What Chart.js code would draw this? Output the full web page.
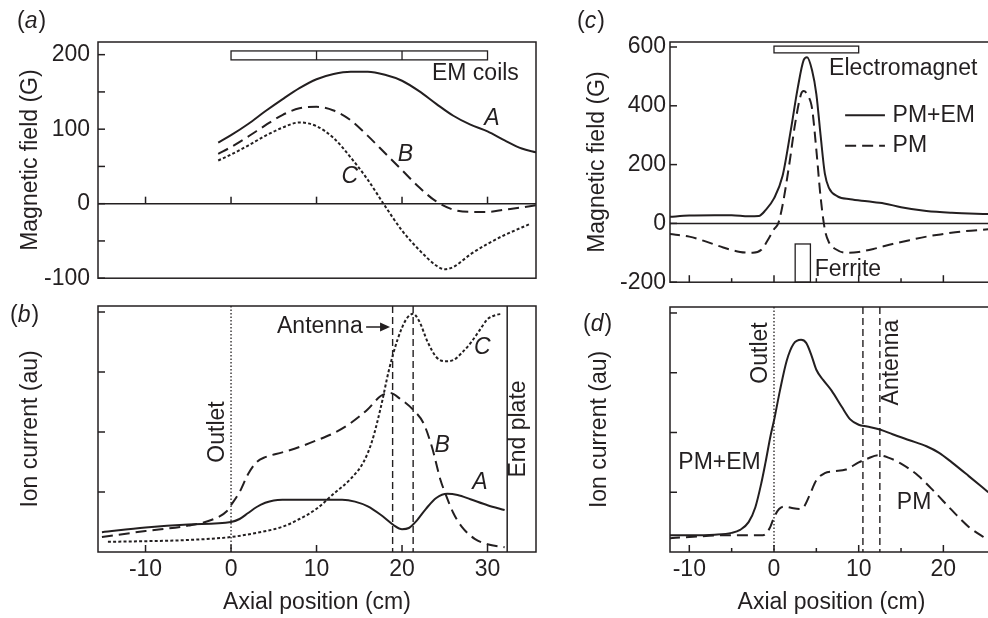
<!DOCTYPE html>
<html>
<head>
<meta charset="utf-8">
<title>Axial field and ion current profiles</title>
<script src="https://cdn.jsdelivr.net/npm/chart.js@4.4.1/dist/chart.umd.min.js"></script>
<style>
  html, body { margin: 0; padding: 0; background: #fff; overflow: hidden; }
  body { width: 988px; height: 618px; position: relative; }
  canvas { position: absolute; }
</style>
</head>
<body>
<canvas id="chartA" width="545" height="300" style="left:0;top:0"></canvas>
<canvas id="chartB" width="545" height="322" style="left:0;top:296px"></canvas>
<canvas id="chartC" width="440" height="300" style="left:560px;top:0"></canvas>
<canvas id="chartD" width="440" height="322" style="left:560px;top:296px"></canvas>
<script>
// (a) axial magnetic field for three coil settings, G
const fieldPosA = [-1.5, 0, 2, 4, 6, 8, 10, 12, 14, 16, 18, 20, 22, 24, 26, 28, 30, 32, 34, 35.7];
const fieldA = [82, 92, 107, 124, 140, 155, 167, 174, 177, 177, 173, 165, 151, 134, 118, 106, 97, 85, 74, 69];
const fieldPosB = [-1.5, 0, 2, 4, 6, 8, 10, 12, 14, 16, 18, 20, 22, 24, 26, 28, 30, 32, 34, 35.7];
const fieldB = [67, 76, 90, 105, 119, 128, 130, 125, 112, 91, 68, 45, 22, 3, -8, -11, -11, -8, -5, -2];
const fieldPosC = [-1.5, 0, 2, 4, 6, 8, 10, 12, 14, 16, 18, 20, 22, 24, 25, 26, 27, 28, 30, 32, 34, 35];
const fieldC = [58, 66, 78, 91, 102, 109, 104, 88, 62, 32, -3, -36, -62, -83, -88, -85, -77, -68, -54, -42, -32, -27];

// (b) ion current for the same settings, au
const ionPosA = [-15.1, -10, -5, 0, 1, 2, 3, 4, 5, 6, 9, 13, 14.5, 16, 17.5, 19, 20, 20.8, 21.7, 22.8, 24, 25.3, 26.5, 28, 30, 32];
const ionA = [0.33, 0.41, 0.46, 0.5, 0.55, 0.65, 0.75, 0.82, 0.86, 0.87, 0.87, 0.87, 0.84, 0.76, 0.62, 0.45, 0.38, 0.4, 0.52, 0.72, 0.9, 0.97, 0.95, 0.88, 0.78, 0.7];
const ionPosB = [-15.1, -10, -5, -2, -0.5, 0, 1, 2, 3, 4, 6, 8, 10, 12, 14, 16, 17.5, 18.6, 19.8, 21.3, 22.5, 23.5, 24.5, 25, 26, 27, 28.5, 30, 32];
const ionB = [0.25, 0.35, 0.44, 0.55, 0.68, 0.78, 1.0, 1.3, 1.5, 1.58, 1.66, 1.75, 1.86, 1.98, 2.15, 2.38, 2.6, 2.65, 2.55, 2.37, 2.15, 1.75, 1.2, 1.0, 0.65, 0.42, 0.22, 0.13, 0.08];
const ionPosC = [-14.4, -10, -5, 0, 3, 6, 8, 10, 12, 14, 15.5, 16.5, 17.5, 18.5, 19.5, 20.5, 21.3, 22, 23, 24, 25, 26, 27, 28, 29, 30, 31, 31.7];
const ionC = [0.17, 0.18, 0.2, 0.25, 0.32, 0.42, 0.55, 0.72, 0.97, 1.22, 1.5, 1.85, 2.4, 3.05, 3.55, 3.88, 3.97, 3.85, 3.5, 3.25, 3.18, 3.2, 3.32, 3.48, 3.68, 3.88, 3.95, 3.97];

// (c) field with permanent magnet, with and without electromagnet, G
const pmemFieldPos = [-12.4, -10, -7, -5, -3, -1.8, -1, 0, 1, 2, 2.8, 3.5, 3.9, 4.5, 5, 5.5, 6, 6.5, 7.5, 9, 11, 13, 15, 18, 21, 25.3];
const pmemField = [22, 27, 28, 28, 24, 25, 45, 85, 160, 320, 460, 555, 565, 520, 440, 300, 170, 120, 92, 82, 75, 68, 55, 42, 36, 32];
const pmFieldPos = [-12.4, -10, -8, -6, -4, -2.5, -1.5, -0.8, 0, 0.5, 1, 1.8, 2.5, 3.2, 3.5, 4, 4.5, 5, 5.5, 6, 6.5, 7.3, 8.5, 10, 12, 14, 16, 18, 20, 22, 25.3];
const pmField = [-36, -45, -62, -82, -97, -100, -90, -60, -20, 0, 60, 200, 340, 440, 450, 435, 390, 250, 90, -20, -65, -88, -100, -97, -85, -70, -57, -45, -36, -28, -20];

// (d) ion current, au
const pmemIonPos = [-12.4, -10, -7, -5, -4, -3, -2.2, -1.5, -1, -0.4, 0, 0.7, 1.5, 2.3, 3.2, 3.8, 4.4, 5, 5.8, 6.8, 8, 9, 10, 11, 12.5, 14, 16, 18, 19.5, 21, 23, 25.3];
const pmemIon = [0.28, 0.28, 0.29, 0.32, 0.37, 0.5, 0.75, 1.15, 1.5, 1.95, 2.2, 2.7, 3.2, 3.48, 3.55, 3.5, 3.3, 3.05, 2.88, 2.7, 2.43, 2.22, 2.13, 2.1, 2.05, 1.97, 1.87, 1.77, 1.66, 1.5, 1.27, 1.0];
const pmIonPos = [-12.4, -10, -6, -3, -1.3, -0.5, 0, 0.6, 1.2, 2, 3, 3.5, 4.2, 5, 6, 7, 8.5, 10, 11, 12.3, 13.5, 15, 17, 19, 21, 23, 25.3];
const pmIon = [0.23, 0.25, 0.28, 0.28, 0.28, 0.4, 0.58, 0.72, 0.76, 0.74, 0.72, 0.75, 0.95, 1.2, 1.32, 1.35, 1.38, 1.5, 1.56, 1.62, 1.58, 1.48, 1.28, 1.0, 0.7, 0.42, 0.2];

// tick values
const xTicksLeft = [-10, 0, 10, 20, 30];
const xTicksRight = [-10, 0, 10, 20];
const xMinorRight = [-5, 5, 15];
const yTicksFieldA = [-100, 0, 100, 200];
const yMinorFieldA = [-50, 50, 150];
const yTicksFieldC = [-200, 0, 200, 400, 600];
const yTicksIon = [1, 2, 3, 4];

// hardware positions, cm
const coilEdges = [0, 10, 20, 30];
const coilBand = [193, 205];
const emEdges = [0, 10];
const emBand = [580, 603];
const ferriteEdges = [2.5, 4.3];
const ferriteBand = [-200, -70];
const outletPos = 0;
const antennaPosB = [18.9, 21.3];
const endPlatePos = 32.3;
const antennaPosD = [10.5, 12.5];

const INK = '#231f20';
const FONT = '"Liberation Sans", Arial, Helvetica, sans-serif';
const FS = 23;

Chart.defaults.font.family = FONT;
Chart.defaults.font.size = FS;
Chart.defaults.color = INK;

const SOLID = [];
const DASHED = [11, 6];
const DOTTED = [3, 2.2];

function curve(label, xs, ys, dash) {
    return {
        label: label,
        data: xs.map((x, i) => ({ x: x, y: ys[i] })),
        borderColor: INK,
        borderWidth: 2,
        borderDash: dash,
        pointRadius: 0,
        fill: false,
        cubicInterpolationMode: 'monotone'
    };
}

// small canvas helpers
function seg(ctx, x1, y1, x2, y2) {
    ctx.beginPath();
    ctx.moveTo(x1, y1);
    ctx.lineTo(x2, y2);
    ctx.stroke();
}

function text(ctx, str, x, y, opts = {}) {
    ctx.save();
    ctx.fillStyle = INK;
    ctx.font = (opts.italic ? 'italic ' : '') + FS + 'px ' + FONT;
    ctx.textAlign = opts.align || 'center';
    ctx.textBaseline = 'middle';
    ctx.translate(x, y);
    if (opts.rotate) ctx.rotate(-Math.PI / 2);
    ctx.fillText(str, 0, 0);
    ctx.restore();
}

// "(a)" style panel tag with italic letter
function panelTag(ctx, letter, x, y) {
    ctx.save();
    ctx.fillStyle = INK;
    ctx.textBaseline = 'middle';
    ctx.textAlign = 'left';
    ctx.font = FS + 'px ' + FONT;
    ctx.fillText('(', x, y);
    let cx = x + ctx.measureText('(').width;
    ctx.font = 'italic ' + FS + 'px ' + FONT;
    ctx.fillText(letter, cx, y);
    cx += ctx.measureText(letter).width + 1;
    ctx.font = FS + 'px ' + FONT;
    ctx.fillText(')', cx, y);
    ctx.restore();
}

function vline(ctx, x, y, pos, dash, width) {
    const a = x.chart.chartArea;
    const px = x.getPixelForValue(pos);
    ctx.save();
    ctx.strokeStyle = INK;
    ctx.lineWidth = width;
    ctx.setLineDash(dash);
    seg(ctx, px, a.top, px, a.bottom);
    ctx.restore();
}

// frame box, inward ticks and panel-specific annotations
function framePlugin(cfg) {
    return {
        id: 'frame',
        afterDatasetsDraw(chart) {
            const { ctx, chartArea: a, scales: { x, y } } = chart;
            ctx.save();
            ctx.strokeStyle = INK;
            ctx.lineWidth = 1.5;
            ctx.setLineDash([]);
            ctx.strokeRect(a.left, a.top, a.right - a.left, a.bottom - a.top);

            if (cfg.zeroLine) {
                const y0 = y.getPixelForValue(0);
                seg(ctx, a.left, y0, a.right, y0);
            }
            const base = cfg.xTickAtZero ? y.getPixelForValue(0) : a.bottom;
            (cfg.xTicks || []).forEach(v => {
                const px = x.getPixelForValue(v);
                seg(ctx, px, base, px, base - 7);
            });
            (cfg.xMinor || []).forEach(v => {
                const px = x.getPixelForValue(v);
                seg(ctx, px, base, px, base - 4);
            });
            (cfg.yTicks || []).forEach(v => {
                const py = y.getPixelForValue(v);
                seg(ctx, a.left, py, a.left + 7, py);
            });
            (cfg.yMinor || []).forEach(v => {
                const py = y.getPixelForValue(v);
                seg(ctx, a.left, py, a.left + 7, py);
            });
            ctx.restore();
            if (cfg.draw) cfg.draw(ctx, x, y, a);
        }
    };
}

function makeChart(canvasId, cfg) {
    const ctx = document.getElementById(canvasId).getContext('2d');
    return new Chart(ctx, {
        type: 'line',
        data: { datasets: cfg.datasets },
        options: {
            responsive: false,
            animation: false,
            events: [],
            layout: { padding: { top: cfg.padTop, right: cfg.padRight, left: 0, bottom: 0 } },
            plugins: {
                legend: { display: false },
                tooltip: { enabled: false }
            },
            scales: {
                x: {
                    type: 'linear',
                    min: cfg.xMin,
                    max: cfg.xMax,
                    grid: { display: false, drawTicks: false },
                    border: { display: false },
                    ticks: { display: !!cfg.xLabels, padding: 4, autoSkip: false, maxRotation: 0 },
                    afterBuildTicks: s => { s.ticks = (cfg.xLabels || []).map(v => ({ value: v })); },
                    afterFit: s => { s.height = cfg.xHeight; },
                    title: {
                        display: !!cfg.xTitle,
                        text: cfg.xTitle || '',
                        padding: { top: 0, bottom: 2 }
                    }
                },
                y: {
                    type: 'linear',
                    min: cfg.yMin,
                    max: cfg.yMax,
                    grid: { display: false, drawTicks: false },
                    border: { display: false },
                    ticks: { display: !!cfg.yLabels, padding: cfg.yLabelPad || 6, autoSkip: false },
                    afterBuildTicks: s => { s.ticks = (cfg.yLabels || []).map(v => ({ value: v })); },
                    afterFit: s => { s.width = cfg.yWidth; },
                    title: {
                        display: true,
                        text: cfg.yTitle,
                        padding: { top: cfg.yTitlePad, bottom: 0 }
                    }
                }
            }
        },
        plugins: [framePlugin(cfg)]
    });
}

// (a) magnetic field, EM coils only
makeChart('chartA', {
    xMin: -15.56, xMax: 35.67, yMin: -100, yMax: 217,
    yWidth: 98, xHeight: 14, padTop: 42, padRight: 9,
    yTitle: 'Magnetic field (G)', yTitlePad: 17,
    yLabels: yTicksFieldA, yLabelPad: 8,
    zeroLine: true, xTickAtZero: true,
    xTicks: xTicksLeft, yTicks: yTicksFieldA, yMinor: yMinorFieldA,
    datasets: [
        curve('A', fieldPosA, fieldA, SOLID),
        curve('B', fieldPosB, fieldB, DASHED),
        curve('C', fieldPosC, fieldC, DOTTED)
    ],
    draw(ctx, x, y) {
        // coil stack
        ctx.save();
        ctx.strokeStyle = INK;
        ctx.lineWidth = 1.3;
        const top = y.getPixelForValue(coilBand[1]);
        const bot = y.getPixelForValue(coilBand[0]);
        const l = x.getPixelForValue(coilEdges[0]);
        const r = x.getPixelForValue(coilEdges[coilEdges.length - 1]);
        ctx.strokeRect(l, top, r - l, bot - top);
        coilEdges.slice(1, -1).forEach(v => {
            const px = x.getPixelForValue(v);
            seg(ctx, px, top, px, bot);
        });
        ctx.restore();
        text(ctx, 'EM coils', x.getPixelForValue(23.5), y.getPixelForValue(175), { align: 'left' });
        text(ctx, 'A', x.getPixelForValue(30.5), y.getPixelForValue(114), { italic: true });
        text(ctx, 'B', x.getPixelForValue(20.4), y.getPixelForValue(66), { italic: true });
        text(ctx, 'C', x.getPixelForValue(13.9), y.getPixelForValue(36), { italic: true });
        panelTag(ctx, 'a', 17, 22);
    }
});

// (b) ion current, EM coils only
makeChart('chartB', {
    xMin: -15.56, xMax: 35.67, yMin: 0, yMax: 4.1,
    yWidth: 98, xHeight: 66, padTop: 10, padRight: 9,
    yTitle: 'Ion current (au)', yTitlePad: 17,
    xLabels: xTicksLeft, xTitle: 'Axial position (cm)',
    xTicks: xTicksLeft, yTicks: yTicksIon,
    datasets: [
        curve('A', ionPosA, ionA, SOLID),
        curve('B', ionPosB, ionB, DASHED),
        curve('C', ionPosC, ionC, DOTTED)
    ],
    draw(ctx, x, y) {
        vline(ctx, x, y, outletPos, [1.5, 2], 1.3);
        antennaPosB.forEach(p => vline(ctx, x, y, p, [7, 4], 1.4));
        vline(ctx, x, y, endPlatePos, [], 1.5);

        text(ctx, 'Outlet', x.getPixelForValue(-1.6), y.getPixelForValue(2.0), { rotate: true });
        text(ctx, 'End plate', x.getPixelForValue(33.6), y.getPixelForValue(2.05), { rotate: true });

        const ay = y.getPixelForValue(3.75);
        text(ctx, 'Antenna', x.getPixelForValue(15.4), ay, { align: 'right' });
        const x1 = x.getPixelForValue(15.8), x2 = x.getPixelForValue(18.6);
        ctx.save();
        ctx.strokeStyle = INK;
        ctx.fillStyle = INK;
        ctx.lineWidth = 1.5;
        seg(ctx, x1, ay, x2 - 8, ay);
        ctx.beginPath();
        ctx.moveTo(x2, ay);
        ctx.lineTo(x2 - 10, ay - 4.5);
        ctx.lineTo(x2 - 10, ay + 4.5);
        ctx.closePath();
        ctx.fill();
        ctx.restore();

        text(ctx, 'A', x.getPixelForValue(29.1), y.getPixelForValue(1.15), { italic: true });
        text(ctx, 'B', x.getPixelForValue(24.7), y.getPixelForValue(1.78), { italic: true });
        text(ctx, 'C', x.getPixelForValue(29.4), y.getPixelForValue(3.4), { italic: true });
        panelTag(ctx, 'b', 10, 20);
    }
});

// (c) magnetic field, permanent magnet with and without electromagnet
makeChart('chartC', {
    xMin: -12.28, xMax: 25.86, yMin: -200, yMax: 617,
    yWidth: 110, xHeight: 14, padTop: 42, padRight: 7,
    yTitle: 'Magnetic field (G)', yTitlePad: 24,
    yLabels: yTicksFieldC, yLabelPad: 4,
    zeroLine: true,
    xTicks: xTicksRight, xMinor: xMinorRight, yTicks: yTicksFieldC,
    datasets: [
        curve('PM+EM', pmemFieldPos, pmemField, SOLID),
        curve('PM', pmFieldPos, pmField, DASHED)
    ],
    draw(ctx, x, y) {
        ctx.save();
        ctx.strokeStyle = INK;
        ctx.lineWidth = 1.3;
        let l = x.getPixelForValue(emEdges[0]), r = x.getPixelForValue(emEdges[1]);
        let t = y.getPixelForValue(emBand[1]), b = y.getPixelForValue(emBand[0]);
        ctx.strokeRect(l, t, r - l, b - t);
        l = x.getPixelForValue(ferriteEdges[0]); r = x.getPixelForValue(ferriteEdges[1]);
        t = y.getPixelForValue(ferriteBand[1]); b = y.getPixelForValue(ferriteBand[0]);
        ctx.strokeRect(l, t, r - l, b - t);
        ctx.restore();

        text(ctx, 'Electromagnet', x.getPixelForValue(6.5), y.getPixelForValue(525), { align: 'left' });
        text(ctx, 'Ferrite', x.getPixelForValue(4.8), y.getPixelForValue(-157), { align: 'left' });

        // legend
        const rows = [['PM+EM', SOLID, 368], ['PM', DASHED, 264]];
        rows.forEach(([name, dash, v]) => {
            const py = y.getPixelForValue(v);
            ctx.save();
            ctx.strokeStyle = INK;
            ctx.lineWidth = 2;
            ctx.setLineDash(dash);
            seg(ctx, x.getPixelForValue(8.4), py, x.getPixelForValue(13.1), py);
            ctx.restore();
            text(ctx, name, x.getPixelForValue(14.0), py, { align: 'left' });
        });
        panelTag(ctx, 'c', 17, 22);
    }
});

// (d) ion current, permanent magnet with and without electromagnet
makeChart('chartD', {
    xMin: -12.28, xMax: 25.86, yMin: 0, yMax: 4.1,
    yWidth: 110, xHeight: 66, padTop: 11, padRight: 7,
    yTitle: 'Ion current (au)', yTitlePad: 26,
    xLabels: xTicksRight, xTitle: 'Axial position (cm)',
    xTicks: xTicksRight, xMinor: xMinorRight, yTicks: yTicksIon,
    datasets: [
        curve('PM+EM', pmemIonPos, pmemIon, SOLID),
        curve('PM', pmIonPos, pmIon, DASHED)
    ],
    draw(ctx, x, y) {
        vline(ctx, x, y, outletPos, [1.5, 2], 1.3);
        antennaPosD.forEach(p => vline(ctx, x, y, p, [7, 4], 1.4));
        text(ctx, 'Outlet', x.getPixelForValue(-1.55), y.getPixelForValue(3.33), { rotate: true });
        text(ctx, 'Antenna', x.getPixelForValue(13.9), y.getPixelForValue(3.17), { rotate: true });
        text(ctx, 'PM+EM', x.getPixelForValue(-11.3), y.getPixelForValue(1.5), { align: 'left' });
        text(ctx, 'PM', x.getPixelForValue(14.5), y.getPixelForValue(0.82), { align: 'left' });
        panelTag(ctx, 'd', 23, 29);
    }
});
</script>
</body>
</html>
